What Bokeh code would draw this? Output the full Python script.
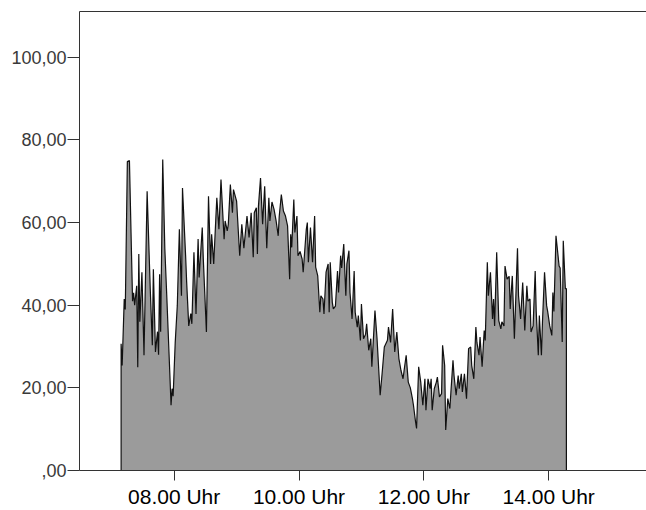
from bokeh.plotting import figure
from bokeh.models import Range1d, LinearAxis, FixedTicker
from bokeh.embed import file_html
from bokeh.resources import INLINE

# time of measurement, minutes after midnight
minutes = [
    429, 430, 432, 433, 435, 437, 440, 441, 442, 444, 445, 446, 447, 449, 451, 454,
    457, 459, 460, 462, 464, 465, 466, 467, 469, 471, 473, 475, 477, 478, 479, 481,
    483, 485, 487, 488, 491, 492, 494, 496, 497, 499, 501, 503, 504, 507, 508, 511,
    513, 515, 516, 518, 520, 521, 523, 525, 528, 529, 531, 532, 534, 536, 537, 540,
    543, 545, 547, 550, 552, 554, 556, 557, 559, 560, 561, 563, 565, 567, 569, 571,
    572, 574, 576, 578, 580, 581, 583, 585, 587, 589, 591, 592, 593, 595, 596, 598,
    599, 601, 603, 604, 607, 608, 609, 611, 613, 615, 616, 618, 620, 621, 623, 624,
    626, 628, 629, 630, 632, 633, 635, 637, 638, 640, 641, 643, 645, 646, 648, 649,
    651, 653, 654, 656, 657, 659, 660, 662, 664, 665, 667, 669, 670, 673, 675, 678,
    680, 682, 685, 686, 688, 690, 692, 694, 696, 698, 700, 701, 703, 705, 707, 709,
    710, 712, 713, 715, 717, 719, 721, 722, 724, 726, 727, 728, 730, 732, 733, 735,
    737, 738, 740, 741, 743, 745, 746, 748, 749, 751, 753, 754, 756, 757, 759, 761,
    763, 765, 766, 768, 770, 771, 773, 774, 776, 778, 779, 781, 782, 784, 786, 787,
    788, 790, 792, 794, 795, 797, 798, 800, 802, 803, 805, 807, 810, 811, 813, 815,
    817, 819, 820, 822, 823, 825, 827, 828, 830, 831, 833, 834, 836, 838, 839, 841,
    843, 844, 845, 847, 848, 850, 851, 853, 854, 856, 857,
]

values = [
    30.7, 25.4, 41.5, 39.0, 74.8, 75.0, 41.0, 43.0, 40.0, 44.7, 25.0, 52.4, 36.0, 48.0, 27.9, 67.6,
    44.0, 30.3, 48.7, 28.7, 33.6, 28.0, 47.5, 33.6, 75.3, 53.8, 41.5, 28.7, 15.8, 19.8, 18.0, 31.0,
    39.9, 58.4, 42.3, 68.4, 52.0, 45.6, 35.0, 38.0, 35.5, 52.8, 37.9, 56.0, 46.7, 58.8, 51.2, 33.5,
    66.4, 50.0, 57.2, 50.0, 60.8, 66.0, 58.4, 70.4, 56.0, 60.4, 58.0, 59.5, 69.2, 62.4, 68.0, 65.2,
    52.0, 59.6, 53.8, 61.6, 56.4, 62.4, 51.6, 62.4, 63.6, 52.4, 64.0, 70.8, 59.6, 68.8, 53.8, 66.0,
    60.4, 65.0, 63.2, 60.4, 56.8, 61.6, 66.8, 62.8, 61.6, 59.2, 46.3, 57.2, 54.0, 65.6, 57.6, 61.6,
    52.0, 53.0, 51.2, 48.0, 58.4, 60.0, 50.4, 58.8, 50.4, 61.6, 49.2, 47.1, 38.3, 42.3, 41.5, 37.9,
    48.0, 50.0, 38.3, 50.4, 40.7, 39.1, 39.8, 48.3, 43.1, 52.0, 49.0, 54.8, 42.3, 50.0, 53.2, 43.1,
    36.7, 48.3, 38.3, 34.7, 37.5, 31.5, 40.3, 31.9, 33.0, 35.5, 29.1, 31.9, 25.1, 38.7, 31.9, 18.2,
    23.9, 29.9, 31.5, 34.7, 31.0, 39.1, 28.7, 33.5, 27.1, 24.2, 22.2, 24.2, 27.9, 21.4, 20.0, 17.4,
    15.8, 11.8, 10.2, 25.1, 21.4, 15.8, 22.2, 14.6, 22.2, 19.8, 22.2, 14.6, 19.8, 21.4, 22.6, 17.8,
    18.6, 30.3, 25.4, 9.8, 17.4, 15.0, 19.0, 26.7, 23.0, 18.2, 23.0, 19.8, 23.4, 19.0, 23.4, 17.4,
    29.5, 29.9, 25.4, 22.2, 34.7, 31.0, 27.9, 32.3, 25.1, 33.9, 31.5, 50.4, 42.3, 48.0, 36.7, 41.5,
    35.0, 52.8, 36.3, 34.3, 36.0, 35.0, 49.5, 46.3, 47.0, 39.1, 47.1, 31.9, 53.8, 42.3, 36.7, 45.5,
    33.9, 44.7, 41.0, 41.5, 33.5, 35.0, 48.3, 38.5, 27.9, 37.5, 27.9, 36.0, 48.0, 39.9, 38.5, 35.0,
    32.7, 43.1, 38.5, 56.8, 54.4, 49.5, 49.0, 31.1, 55.6, 44.0, 44.0,
]

x_ticks = [480, 600, 720, 840]
x_tick_labels = ["08.00 Uhr", "10.00 Uhr", "12.00 Uhr", "14.00 Uhr"]
y_ticks = [0, 20, 40, 60, 80, 100]
y_tick_labels = [",00", "20,00", "40,00", "60,00", "80,00", "100,00"]

FONT = "Liberation Sans"
AXIS_COLOR = "#333333"

p = figure(
    width=646, height=510,
    output_backend="svg", toolbar_location=None,
    x_range=Range1d(389, 934), y_range=Range1d(0, 111.1),
    x_axis_location=None, y_axis_location=None,
    min_border_left=79, min_border_right=0, min_border_top=11, min_border_bottom=38,
)
p.outline_line_color = None
p.grid.visible = False
p.background_fill_color = "white"
p.border_fill_color = "white"

xs = [minutes[0]] + minutes + [minutes[-1]]
ys = [0] + values + [0]
p.patch(xs, ys, fill_color="#9b9b9b", line_color="#111111", line_width=1.2)

xaxis = LinearAxis(ticker=FixedTicker(ticks=x_ticks, minor_ticks=[]))
xaxis.major_label_overrides = {t: l for t, l in zip(x_ticks, x_tick_labels)}
xaxis.major_tick_out = 10
xaxis.major_tick_in = 0
xaxis.minor_tick_out = 0
xaxis.minor_tick_in = 0
xaxis.major_label_standoff = 4
xaxis.major_label_text_font = FONT
xaxis.major_label_text_font_size = "21px"
xaxis.major_label_text_color = "#000000"
xaxis.axis_line_color = AXIS_COLOR
xaxis.major_tick_line_color = AXIS_COLOR
p.add_layout(xaxis, "below")

yaxis = LinearAxis(ticker=FixedTicker(ticks=y_ticks, minor_ticks=[]))
yaxis.major_label_overrides = {t: l for t, l in zip(y_ticks, y_tick_labels)}
yaxis.major_tick_out = 12
yaxis.major_tick_in = 0
yaxis.minor_tick_out = 0
yaxis.minor_tick_in = 0
yaxis.major_label_standoff = 1
yaxis.major_label_text_font = FONT
yaxis.major_label_text_font_size = "18px"
yaxis.major_label_text_color = "#3a3a3a"
yaxis.axis_line_color = AXIS_COLOR
yaxis.major_tick_line_color = AXIS_COLOR
p.add_layout(yaxis, "left")

top = LinearAxis(ticker=FixedTicker(ticks=[], minor_ticks=[]))
top.major_tick_out = 0
top.major_tick_in = 0
top.minor_tick_out = 0
top.minor_tick_in = 0
top.major_label_standoff = 0
top.major_label_text_font_size = "0px"
top.axis_line_color = AXIS_COLOR
p.add_layout(top, "above")

open("out.html", "w").write(file_html(p, INLINE))
